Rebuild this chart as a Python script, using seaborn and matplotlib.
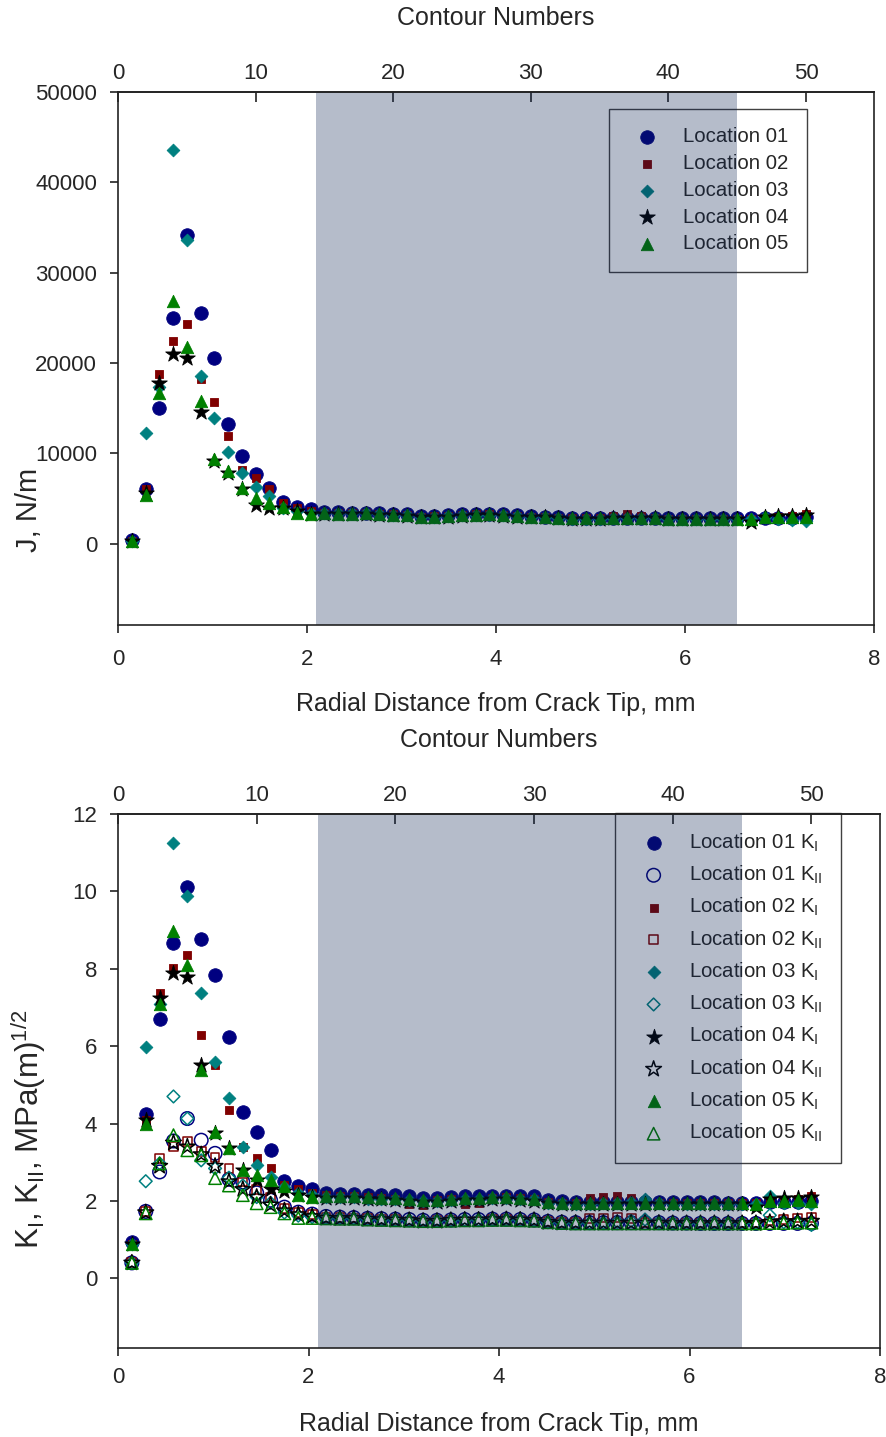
import numpy as np
import pandas as pd
import matplotlib
matplotlib.use("Agg")
import matplotlib.pyplot as plt
import seaborn as sns

# ---- data -------------------------------------------------------------
contours = list(range(1, 51))
ELEM = 0.1456  # radial size of one contour ring, mm

J_loc01 = [400, 6100, 15000, 25000, 34200, 25500, 20500, 13200, 9700, 7700,
           6200, 4600, 4100, 3800, 3500, 3500, 3450, 3450, 3350, 3300,
           3250, 3100, 3100, 3150, 3250, 3300, 3300, 3250, 3150, 3050,
           3000, 2900, 2850, 2850, 2850, 2850, 2850, 2850, 2850, 2800,
           2800, 2800, 2800, 2800, 2800, 2800, 2800, 2850, 2850, 2900]
J_loc02 = [300, 6000, 18800, 22400, 24300, 18200, 15700, 11900, 8200, 7300,
           6100, 4500, 3900, 3600, 3450, 3450, 3400, 3400, 3300, 3250,
           3200, 3000, 3050, 3100, 3200, 3250, 3250, 3200, 3100, 3000,
           2950, 2850, 2800, 2800, 2800, 3100, 3250, 3100, 2850, 2750,
           2750, 2750, 2750, 2750, 2750, 2750, 2800, 2900, 3100, 3300]
J_loc03 = [300, 12200, 17300, 43600, 33600, 18600, 13900, 10200, 7800, 6300,
           5300, 3900, 3600, 3400, 3400, 3350, 3350, 3350, 3250, 3200,
           3150, 3000, 2950, 3050, 3150, 3200, 3200, 3150, 3050, 2950,
           2900, 2800, 2750, 2750, 2750, 2800, 2800, 2850, 2850, 2750,
           2700, 2700, 2700, 2700, 2700, 2700, 2900, 2700, 2600, 2500]
J_loc04 = [300, 5600, 17800, 21000, 20500, 14600, 9100, 7800, 6000, 4300,
           3900, 4000, 3600, 3300, 3300, 3300, 3300, 3300, 3200, 3150,
           3100, 2950, 2950, 3000, 3100, 3150, 3150, 3100, 3000, 2950,
           2900, 2800, 2750, 2750, 2750, 2800, 2800, 2800, 2800, 2750,
           2700, 2700, 2700, 2700, 2700, 2400, 3000, 3050, 3100, 3150]
J_loc05 = [300, 5400, 16700, 26900, 21800, 15800, 9400, 8100, 6200, 5100,
           4500, 4100, 3400, 3300, 3350, 3300, 3300, 3350, 3250, 3200,
           3150, 3000, 3000, 3050, 3150, 3200, 3250, 3150, 3050, 3000,
           2950, 2850, 2800, 2800, 2800, 2800, 2800, 2800, 2800, 2750,
           2750, 2750, 2750, 2750, 2750, 2750, 3000, 2950, 3000, 3000]

KI_loc01 = [0.94, 4.26, 6.70, 8.66, 10.12, 8.76, 7.84, 6.24, 4.29, 3.77,
            3.31, 2.51, 2.38, 2.30, 2.20, 2.19, 2.19, 2.16, 2.15, 2.15,
            2.12, 2.08, 2.08, 2.10, 2.12, 2.12, 2.14, 2.14, 2.13, 2.12,
            2.02, 2.00, 1.98, 1.98, 1.98, 1.98, 1.98, 1.98, 1.98, 1.97,
            1.97, 1.97, 1.97, 1.96, 1.96, 1.96, 1.97, 1.98, 1.98, 1.99]
KI_loc02 = [0.90, 4.10, 7.38, 8.03, 8.35, 6.28, 5.51, 4.36, 3.40, 3.10,
            2.84, 2.40, 2.30, 2.20, 2.15, 2.14, 2.13, 2.10, 2.08, 2.05,
            1.92, 1.90, 2.03, 2.05, 1.92, 1.95, 2.08, 2.10, 2.08, 2.06,
            1.98, 1.96, 1.95, 2.08, 2.10, 2.12, 2.08, 1.95, 1.95, 1.94,
            1.94, 1.94, 1.94, 1.94, 1.94, 1.94, 1.98, 2.02, 2.06, 2.12]
KI_loc03 = [0.90, 5.97, 7.10, 11.24, 9.88, 7.37, 5.59, 4.65, 3.40, 2.92,
            2.62, 2.35, 2.20, 2.15, 2.10, 2.10, 2.10, 2.06, 2.05, 2.04,
            2.02, 2.00, 2.00, 2.03, 2.05, 2.06, 2.08, 2.08, 2.06, 2.04,
            1.96, 1.94, 1.93, 1.93, 1.94, 1.96, 1.98, 2.04, 1.96, 1.93,
            1.93, 1.93, 1.93, 1.93, 1.93, 1.93, 2.13, 1.95, 1.96, 1.92]
KI_loc04 = [0.90, 4.10, 7.25, 7.88, 7.79, 5.51, 3.75, 3.36, 2.79, 2.55,
            2.30, 2.25, 2.15, 2.10, 2.08, 2.08, 2.08, 2.05, 2.04, 2.03,
            2.00, 1.98, 1.98, 2.00, 2.02, 2.03, 2.05, 2.05, 2.03, 2.01,
            1.95, 1.93, 1.92, 1.92, 1.92, 1.93, 1.93, 1.93, 1.93, 1.92,
            1.92, 1.92, 1.92, 1.92, 1.92, 1.84, 2.05, 2.08, 2.08, 2.10]
KI_loc05 = [0.90, 3.98, 7.09, 8.97, 8.09, 5.38, 3.78, 3.38, 2.79, 2.66,
            2.55, 2.38, 2.15, 2.10, 2.12, 2.12, 2.12, 2.09, 2.08, 2.08,
            2.05, 2.03, 2.03, 2.05, 2.07, 2.08, 2.10, 2.10, 2.08, 2.06,
            1.98, 1.96, 1.95, 1.95, 1.95, 1.95, 1.95, 1.95, 1.95, 1.95,
            1.95, 1.95, 1.95, 1.95, 1.95, 1.93, 2.00, 2.00, 2.02, 2.00]

KII_loc01 = [0.40, 1.73, 2.75, 3.55, 4.13, 3.57, 3.23, 2.56, 2.49, 2.21,
             2.02, 1.84, 1.71, 1.66, 1.60, 1.58, 1.57, 1.55, 1.54, 1.53,
             1.52, 1.50, 1.50, 1.51, 1.52, 1.52, 1.53, 1.53, 1.52, 1.51,
             1.47, 1.45, 1.44, 1.44, 1.44, 1.44, 1.44, 1.44, 1.44, 1.43,
             1.43, 1.42, 1.42, 1.42, 1.42, 1.42, 1.42, 1.42, 1.42, 1.42]
KII_loc02 = [0.40, 1.73, 3.10, 3.40, 3.53, 3.28, 3.13, 2.84, 2.49, 2.30,
             2.10, 1.80, 1.70, 1.64, 1.58, 1.57, 1.56, 1.54, 1.53, 1.52,
             1.48, 1.46, 1.49, 1.50, 1.46, 1.47, 1.52, 1.52, 1.51, 1.50,
             1.46, 1.44, 1.44, 1.54, 1.56, 1.57, 1.54, 1.44, 1.43, 1.43,
             1.43, 1.43, 1.43, 1.43, 1.43, 1.43, 1.48, 1.52, 1.56, 1.58]
KII_loc03 = [0.40, 2.51, 2.97, 4.70, 4.13, 3.05, 2.84, 2.60, 2.40, 2.10,
             1.95, 1.70, 1.62, 1.58, 1.56, 1.55, 1.55, 1.53, 1.52, 1.51,
             1.50, 1.49, 1.49, 1.50, 1.51, 1.51, 1.52, 1.52, 1.51, 1.50,
             1.45, 1.43, 1.43, 1.43, 1.44, 1.46, 1.48, 1.52, 1.45, 1.43,
             1.43, 1.43, 1.43, 1.43, 1.43, 1.43, 1.63, 1.45, 1.45, 1.38]
KII_loc04 = [0.40, 1.70, 2.90, 3.50, 3.40, 3.20, 2.90, 2.50, 2.30, 2.10,
             1.90, 1.75, 1.65, 1.60, 1.56, 1.55, 1.55, 1.53, 1.52, 1.51,
             1.50, 1.48, 1.48, 1.50, 1.51, 1.51, 1.52, 1.52, 1.51, 1.50,
             1.45, 1.43, 1.43, 1.43, 1.43, 1.43, 1.43, 1.43, 1.43, 1.42,
             1.42, 1.42, 1.42, 1.42, 1.42, 1.42, 1.45, 1.47, 1.47, 1.48]
KII_loc05 = [0.40, 1.68, 2.97, 3.70, 3.31, 3.18, 2.59, 2.40, 2.15, 1.94,
             1.84, 1.68, 1.56, 1.56, 1.55, 1.54, 1.54, 1.52, 1.51, 1.50,
             1.49, 1.48, 1.48, 1.49, 1.50, 1.50, 1.51, 1.51, 1.50, 1.49,
             1.45, 1.43, 1.42, 1.42, 1.42, 1.42, 1.42, 1.42, 1.42, 1.42,
             1.42, 1.42, 1.42, 1.42, 1.42, 1.42, 1.43, 1.43, 1.44, 1.44]

locations = ["Location 01", "Location 02", "Location 03", "Location 04", "Location 05"]
J_series = [J_loc01, J_loc02, J_loc03, J_loc04, J_loc05]
KI_series = [KI_loc01, KI_loc02, KI_loc03, KI_loc04, KI_loc05]
KII_series = [KII_loc01, KII_loc02, KII_loc03, KII_loc04, KII_loc05]

band_mm = (2.1, 6.55)  # contour range used for path-independent averaging

# ---- styling ----------------------------------------------------------
colors = ["#000080", "#800000", "#008080", "#000000", "#008000"]
markers = ["o", "s", "D", "*", "^"]
sizes = [95, 40, 42, 140, 80]

sns.set_style("white")
plt.rcParams["font.family"] = ["Liberation Sans", "DejaVu Sans"]
plt.rcParams["mathtext.fontset"] = "custom"
plt.rcParams["mathtext.rm"] = "Liberation Sans"
plt.rcParams["axes.linewidth"] = 1.2
plt.rcParams["axes.edgecolor"] = "#222222"

TICK_FS = 16
LABEL_FS = 18
LEG_FS = 14.7

df = pd.DataFrame({"contour": contours})
df["r_mm"] = df["contour"] * ELEM

fig = plt.figure(figsize=(8.86, 14.37), dpi=100)
ax1 = fig.add_axes([118 / 886, 1 - 625 / 1437, 756 / 886, 533 / 1437])
ax2 = fig.add_axes([118 / 886, 1 - 1348 / 1437, 762 / 886, 534 / 1437])


def style_axes(ax, ylim, yticks, ylabel, ylabel_fs, ylabel_xy, xpad, xlabelpad):
    ax.set_xlim(0, 8)
    ax.set_ylim(*ylim)
    ax.set_xticks([0, 2, 4, 6, 8])
    ax.set_yticks(yticks)
    ax.tick_params(axis="both", which="major", direction="out", length=6,
                   width=1.2, labelsize=TICK_FS, color="#222222",
                   bottom=True, left=True, top=False, right=False)
    ax.tick_params(axis="x", pad=xpad)
    ax.tick_params(axis="y", pad=9)
    ax.set_xlabel("Radial Distance from Crack Tip, mm", fontsize=LABEL_FS,
                  labelpad=xlabelpad)
    ax.set_ylabel(ylabel, fontsize=ylabel_fs)
    ax.yaxis.set_label_coords(*ylabel_xy)
    for sp in ax.spines.values():
        sp.set_visible(True)
        sp.set_zorder(6)
    sec = ax.secondary_xaxis("top", functions=(lambda r: r / ELEM,
                                               lambda c: c * ELEM))
    sec.set_xticks([0, 10, 20, 30, 40, 50])
    sec.tick_params(direction="in", length=7, width=1.2, labelsize=TICK_FS,
                    pad=6, color="#222222")
    sec.set_xlabel("Contour Numbers", fontsize=LABEL_FS, labelpad=27)
    ax.axvspan(*band_mm, color="#0c2352", alpha=0.3, lw=0, zorder=4)


# ---- J-integral panel -------------------------------------------------
for name, vals, c, m, s in zip(locations, J_series, colors, markers, sizes):
    d = df.assign(val=vals)
    sns.scatterplot(data=d, x="r_mm", y="val", ax=ax1, marker=m, s=s,
                    color=c, edgecolor=c, linewidth=0.6, label=name,
                    zorder=3)
style_axes(ax1, (-9000, 50000), np.arange(0, 50001, 10000), "J, N/m", 21,
           (-0.099, 0.216), xpad=11, xlabelpad=16)
leg1 = ax1.legend(loc="upper left", bbox_to_anchor=(0.649, 0.968),
                  fontsize=LEG_FS, frameon=True, fancybox=False,
                  edgecolor="#111111", facecolor="none", framealpha=None,
                  borderpad=0.9, labelspacing=0.38, handlelength=2.0,
                  handletextpad=0.75, borderaxespad=0)
leg1.get_frame().set_linewidth(1.0)
leg1.set_zorder(3.5)

# ---- stress-intensity panel -------------------------------------------
for name, vI, vII, c, m, s in zip(locations, KI_series, KII_series,
                                  colors, markers, sizes):
    dI = df.assign(val=vI)
    dII = df.assign(val=vII)
    sns.scatterplot(data=dI, x="r_mm", y="val", ax=ax2, marker=m, s=s,
                    color=c, edgecolor=c, linewidth=0.6,
                    label=name + r" K$_\mathregular{I}$", zorder=3)
    sns.scatterplot(data=dII, x="r_mm", y="val", ax=ax2, marker=m, s=s,
                    facecolor="none", edgecolor=c, linewidth=1.1,
                    label=name + r" K$_\mathregular{II}$", zorder=3)
style_axes(ax2, (-1.8, 12), np.arange(0, 13, 2),
           r"K$_\mathregular{I}$, K$_\mathregular{II}$, MPa(m)$^\mathregular{1/2}$",
           22.5, (-0.092, 0.41), xpad=8, xlabelpad=17)
leg2 = ax2.legend(loc="upper left", bbox_to_anchor=(0.652, 1.002),
                  fontsize=LEG_FS, frameon=True, fancybox=False,
                  edgecolor="#111111", facecolor="none", framealpha=None,
                  borderpad=0.9, labelspacing=0.49, handlelength=2.0,
                  handletextpad=0.75, borderaxespad=0)
leg2.get_frame().set_linewidth(1.0)
leg2.set_zorder(3.5)

fig.savefig("out.png", dpi=100)
